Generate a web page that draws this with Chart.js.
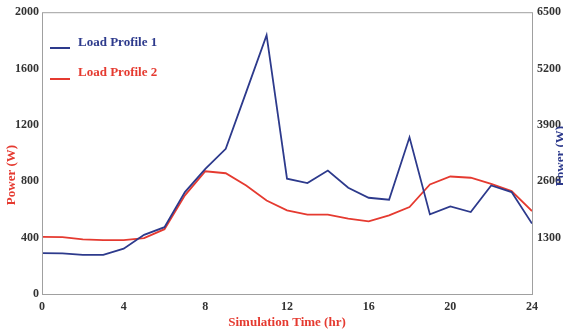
<!DOCTYPE html>
<html>
<head>
<meta charset="utf-8">
<script src="https://cdn.jsdelivr.net/npm/chart.js@4"></script>
<style>
  body { margin: 0; background: #fff; }
  #wrap { width: 563px; height: 332px; position: relative; }
</style>
</head>
<body>
<div id="wrap"><canvas id="loadChart"></canvas></div>
<script>
// hourly values (W)
var hours = [0, 1, 2, 3, 4, 5, 6, 7, 8, 9, 10, 11, 12, 13, 14, 15, 16, 17, 18, 19, 20, 21, 22, 23, 24];
var profile1 = [290, 288, 278, 278, 322, 420, 474, 723, 888, 1030, 1433, 1837, 818, 787, 876, 754, 683, 669, 1112, 565, 622, 582, 770, 723, 500];
var profile2 = [405, 403, 387, 382, 382, 397, 460, 700, 871, 857, 770, 664, 594, 563, 563, 535, 516, 558, 617, 777, 834, 825, 782, 730, 589];
var seriesNames = ["Load Profile 1", "Load Profile 2"];
var leftTicks = [0, 400, 800, 1200, 1600, 2000];
var rightTicks = [0, 1300, 2600, 3900, 5200, 6500];

var blue = "#2d3a8c";
var red = "#e53a30";
var tickFont = { family: "'Liberation Serif', 'Times New Roman', serif", size: 12, weight: "bold" };

function toPoints(ys) {
  return hours.map(function (h, i) { return { x: h, y: ys[i] }; });
}

// border round the plot, legend inside, and the two y titles
var extras = {
  id: "extras",
  afterDraw: function (chart) {
    var c = chart.ctx, a = chart.chartArea;
    c.save();
    c.strokeStyle = "#a0a0a0";
    c.lineWidth = 1;
    c.strokeRect(a.left + 0.5, a.top + 0.5, a.right - a.left, a.bottom - a.top);

    c.font = "bold 13px 'Liberation Serif', serif";
    c.textBaseline = "middle";
    [[blue, 48, 43], [red, 79, 73]].forEach(function (r, i) {
      c.strokeStyle = r[0];
      c.lineWidth = 2;
      c.beginPath();
      c.moveTo(50, r[1]);
      c.lineTo(70, r[1]);
      c.stroke();
      c.fillStyle = r[0];
      c.fillText(seriesNames[i], 78, r[2]);
    });

    c.textAlign = "center";
    c.fillStyle = red;
    c.translate(12, 175);
    c.rotate(-Math.PI / 2);
    c.fillText("Power (W)", 0, 0);
    c.restore();

    c.save();
    c.font = "bold 13px 'Liberation Serif', serif";
    c.textAlign = "center";
    c.textBaseline = "middle";
    c.fillStyle = blue;
    c.translate(561, 156);
    c.rotate(-Math.PI / 2);
    c.fillText("Power (W)", 0, 0);
    c.restore();
  }
};

var ctx = document.getElementById("loadChart").getContext("2d");
var myChart = new Chart(ctx, {
  type: "line",
  data: {
    datasets: [{
      label: seriesNames[0],
      data: toPoints(profile1),
      borderColor: blue,
      borderWidth: 1.8,
      pointRadius: 0,
      tension: 0,
      yAxisID: "y"
    }, {
      label: seriesNames[1],
      data: toPoints(profile2),
      borderColor: red,
      borderWidth: 1.8,
      pointRadius: 0,
      tension: 0,
      yAxisID: "y"
    }]
  },
  options: {
    responsive: true,
    maintainAspectRatio: false,
    animation: false,
    layout: { padding: { top: 11, left: 0, right: 0, bottom: 0 } },
    plugins: { legend: { display: false }, tooltip: { enabled: false } },
    scales: {
      x: {
        type: "linear",
        min: 0,
        max: 24,
        grid: { display: false, drawTicks: false },
        border: { display: false },
        ticks: { stepSize: 4, padding: 6, color: "#333", font: tickFont, maxRotation: 0 },
        title: {
          display: true,
          text: "Simulation Time (hr)",
          color: red,
          font: { family: "'Liberation Serif', serif", size: 13, weight: "bold" },
          padding: { top: 0, bottom: 2 }
        },
        afterFit: function (s) { s.height = 38; }
      },
      y: {
        position: "left",
        min: 0,
        max: 2000,
        grid: { display: false, drawTicks: false },
        border: { display: false },
        afterBuildTicks: function (s) { s.ticks = leftTicks.map(function (v) { return { value: v }; }); },
        ticks: {
          padding: 3,
          color: "#333",
          font: tickFont,
          callback: function (v) { return String(v); }
        },
        afterFit: function (s) { s.width = 42; }
      },
      y2: {
        position: "right",
        min: 0,
        max: 6500,
        grid: { display: false, drawTicks: false },
        border: { display: false },
        afterBuildTicks: function (s) { s.ticks = rightTicks.map(function (v) { return { value: v }; }); },
        ticks: {
          padding: 5,
          color: "#333",
          font: tickFont,
          callback: function (v) { return v === 0 ? "" : String(v); }
        },
        afterFit: function (s) { s.width = 31; }
      }
    }
  },
  plugins: [extras]
});
</script>
</body>
</html>
